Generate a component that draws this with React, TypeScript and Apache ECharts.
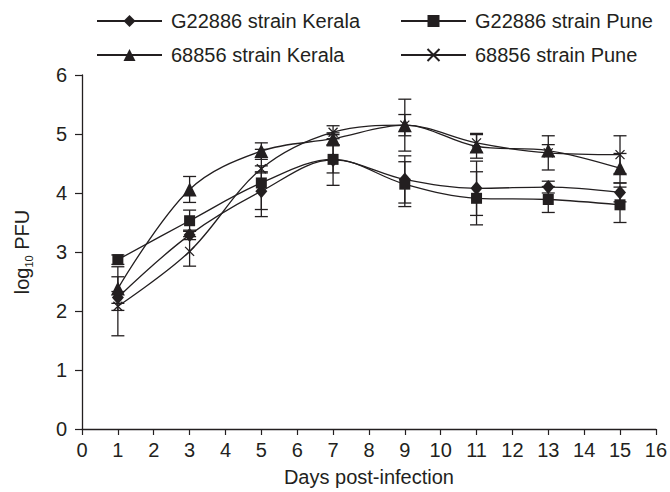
import React, { useEffect, useRef } from "react";
import * as echarts from "echarts";

const days = [1, 3, 5, 7, 9, 11, 13, 15];
const seriesNames = [
  "G22886 strain Kerala",
  "G22886 strain Pune",
  "68856 strain Kerala",
  "68856 strain Pune",
];
const g22886Kerala = [2.23, 3.29, 4.03, 4.56, 4.23, 4.08, 4.1, 4.01];
const g22886KeralaErr = [0.1, 0.08, 0.31, 0.43, 0.4, 0.46, 0.1, 0.16];
const g22886Pune = [2.87, 3.53, 4.17, 4.57, 4.15, 3.91, 3.89, 3.8];
const g22886PuneErr = [0.08, 0.18, 0.57, 0.23, 0.38, 0.45, 0.22, 0.3];
const s68856Kerala = [2.38, 4.06, 4.71, 4.92, 5.15, 4.79, 4.72, 4.42];
const s68856KeralaErr = [0.37, 0.22, 0.14, 0.1, 0.18, 0.2, 0.1, 0.25];
const s68856Pune = [2.08, 3.01, 4.41, 5.03, 5.15, 4.85, 4.68, 4.65];
const s68856PuneErr = [0.5, 0.25, 0.05, 0.11, 0.44, 0.16, 0.29, 0.32];
const xTicks = Array.from({ length: 17 }, (_, i) => i);

const INK = "#231f20";
const FONT = "Liberation Sans, Arial, sans-serif";
const FS = 20;
const crossPath = "path://M0,0 L10,10 M10,0 L0,10";

export default function App() {
  const ref = useRef<HTMLDivElement>(null);
  useEffect(() => {
    if (!ref.current) return;
    const chart = echarts.init(ref.current, undefined, { renderer: "svg" });
    const values = [g22886Kerala, g22886Pune, s68856Kerala, s68856Pune];
    const errs = [g22886KeralaErr, g22886PuneErr, s68856KeralaErr, s68856PuneErr];
    const symbols: any[] = ["diamond", "rect", "triangle", crossPath];
    const sizes: any[] = [[12, 14], 11, 14, 9];

    const lineSeries = seriesNames.map((name, i) => ({
      name,
      type: "line",
      data: days.map((d, j) => [d, values[i][j]]),
      smooth: 0.35,
      symbol: symbols[i],
      symbolSize: sizes[i],
      showAllSymbol: true,
      lineStyle: { color: INK, width: 1.3 },
      itemStyle: { color: INK, borderColor: INK, borderWidth: i === 3 ? 1.3 : 0 },
      z: 3,
    }));

    const errSeries = seriesNames.map((name, i) => ({
      name: name + " err",
      type: "custom",
      data: days.map((d, j) => [d, values[i][j] - errs[i][j], values[i][j] + errs[i][j]]),
      encode: { x: 0, y: [1, 2] },
      z: 2,
      renderItem: (params: any, api: any) => {
        const x = api.value(0);
        const lo = api.coord([x, api.value(1)]);
        const hi = api.coord([x, api.value(2)]);
        const hw = 6.5;
        const st = { stroke: INK, lineWidth: 1.3 };
        return {
          type: "group",
          children: [
            { type: "line", shape: { x1: lo[0], y1: lo[1], x2: hi[0], y2: hi[1] }, style: st },
            { type: "line", shape: { x1: lo[0] - hw, y1: lo[1], x2: lo[0] + hw, y2: lo[1] }, style: st },
            { type: "line", shape: { x1: hi[0] - hw, y1: hi[1], x2: hi[0] + hw, y2: hi[1] }, style: st },
          ],
        };
      },
    }));

    const legendCommon = {
      orient: "vertical",
      itemWidth: 65,
      itemHeight: 15,
      itemGap: 14,
      textStyle: { color: INK, fontSize: FS, fontFamily: FONT, padding: [0, 0, 0, 4] },
    };

    chart.setOption({
      animation: false,
      backgroundColor: "#ffffff",
      textStyle: { fontFamily: FONT },
      legend: [
        { ...legendCommon, left: 91, top: 6, data: [seriesNames[0], seriesNames[2]] },
        { ...legendCommon, left: 395, top: 6, data: [seriesNames[1], seriesNames[3]] },
      ],
      grid: { left: 82, right: 9, top: 75, bottom: 57 },
      xAxis: {
        type: "value",
        min: 0,
        max: 16,
        interval: 1,
        name: "Days post-infection",
        nameLocation: "middle",
        nameGap: 38,
        nameTextStyle: { color: INK, fontSize: FS, fontFamily: FONT },
        axisLine: { lineStyle: { color: INK, width: 1.3 } },
        axisTick: { lineStyle: { color: INK, width: 1.2 }, length: 6 },
        axisLabel: {
          color: INK,
          fontSize: FS,
          fontFamily: FONT,
          margin: 11,
          formatter: (v: number) => (xTicks.includes(v) ? String(v) : ""),
        },
        splitLine: { show: false },
      },
      yAxis: {
        type: "value",
        min: 0,
        max: 6,
        interval: 1,
        name: "{a|log}{b|10}{a| PFU}",
        nameLocation: "middle",
        nameRotate: 90,
        nameGap: 48,
        nameTextStyle: {
          color: INK,
          fontFamily: FONT,
          rich: {
            a: { fontSize: FS, color: INK, fontFamily: FONT, lineHeight: 24 },
            b: { fontSize: 11, color: INK, fontFamily: FONT, lineHeight: 24, verticalAlign: "bottom" },
          },
        },
        axisLine: { show: true, lineStyle: { color: INK, width: 1.3 } },
        axisTick: { show: true, lineStyle: { color: INK, width: 1.2 }, length: 7 },
        axisLabel: { color: INK, fontSize: FS, fontFamily: FONT, margin: 15 },
        splitLine: { show: false },
      },
      series: [...errSeries, ...lineSeries],
    });
    return () => chart.dispose();
  }, []);
  return (
    <div
      ref={ref}
      style={{ position: "fixed", left: 0, top: 0, width: 670, height: 492, background: "#fff" }}
    />
  );
}
